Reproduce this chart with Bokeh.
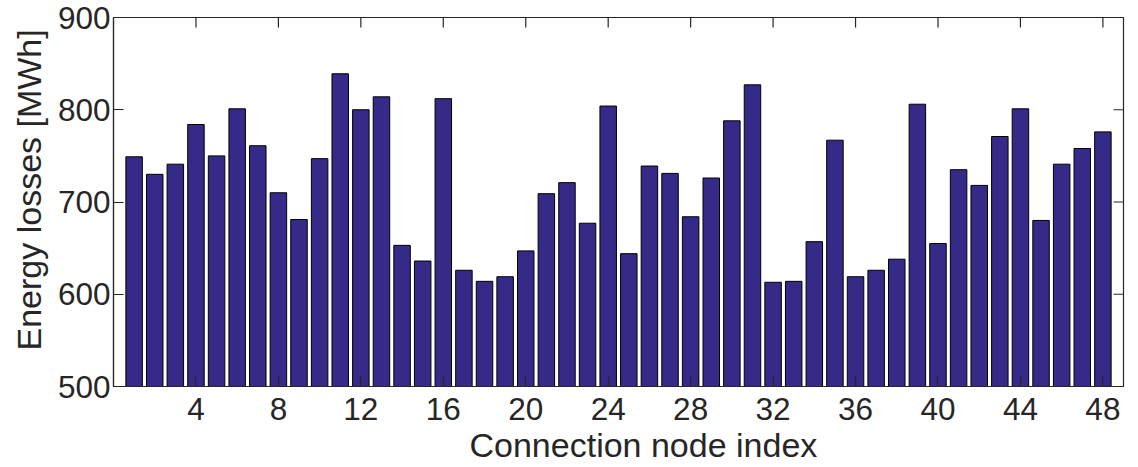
from bokeh.plotting import figure
from bokeh.models import Range1d, LinearAxis, FixedTicker, ColumnDataSource, Title
import math
from bokeh.embed import file_html
from bokeh.resources import INLINE

# Data
nodes = list(range(1, 49))
losses = [749, 730, 741, 784, 750, 801, 761, 710, 681, 747,
          839, 800, 814, 653, 636, 812, 626, 614, 619, 647,
          709, 721, 677, 804, 644, 739, 731, 684, 726, 788,
          827, 613, 614, 657, 767, 619, 626, 638, 806, 655,
          735, 718, 771, 801, 680, 741, 758, 776]
x_ticks = [4, 8, 12, 16, 20, 24, 28, 32, 36, 40, 44, 48]
y_ticks = [500, 600, 700, 800, 900]
x_label = "Connection node index"
y_label = "Energy losses [MWh]"

X_MIN, X_MAX = 0, 49
Y_MIN, Y_MAX = 500, 900

FONT = "Liberation Sans"
FS = "31.5px"
LFS = "34px"
TXT = "#262626"
AX = "#262626"

src = ColumnDataSource(dict(x=nodes, top=losses, bottom=[Y_MIN] * len(nodes)))

p = figure(width=1138, height=467, output_backend="svg", toolbar_location=None,
           x_range=Range1d(X_MIN, X_MAX), y_range=Range1d(Y_MIN, Y_MAX),
           min_border_left=113, min_border_right=15, min_border_top=17,
           min_border_bottom=81, x_axis_location=None, y_axis_location=None)
p.background_fill_color = "white"
p.border_fill_color = "white"
p.outline_line_color = AX
p.outline_line_width = 1.2
p.xgrid.visible = False
p.ygrid.visible = False

p.vbar(x="x", top="top", bottom="bottom", width=0.8, source=src,
       fill_color="#352a87", line_color="black", line_width=1)


def style(ax):
    ax.major_tick_in = 10
    ax.major_tick_out = 0
    ax.minor_tick_line_color = None
    ax.axis_line_color = AX
    ax.axis_line_width = 1.2
    ax.major_tick_line_color = AX
    ax.major_tick_line_width = 1.2
    ax.major_label_text_font = FONT
    ax.major_label_text_font_size = FS
    ax.major_label_text_color = TXT


xb = LinearAxis(ticker=FixedTicker(ticks=x_ticks))
style(xb)
xb.major_label_standoff = 11
p.add_layout(xb, "below")

yl = LinearAxis(ticker=FixedTicker(ticks=y_ticks))
style(yl)
yl.major_label_standoff = 3
p.add_layout(yl, "left")

# inward ticks on the top and right edges of the box
p.ray(x=x_ticks, y=[Y_MAX] * len(x_ticks), length=10, length_units="screen",
      angle=-math.pi / 2, line_color=AX, line_width=1.2)
p.ray(x=[X_MAX] * len(y_ticks), y=y_ticks, length=10, length_units="screen",
      angle=math.pi, line_color=AX, line_width=1.2)

# axis titles
xt = Title(text=x_label, align="left", offset=356, standoff=3,
           text_font=FONT, text_font_size=LFS, text_font_style="normal",
           text_color=TXT)
p.add_layout(xt, "below")
yt = Title(text=y_label, align="left", offset=36, standoff=14,
           text_font=FONT, text_font_size=LFS, text_font_style="normal",
           text_color=TXT)
p.add_layout(yt, "left")

open("out.html", "w").write(file_html(p, INLINE))
